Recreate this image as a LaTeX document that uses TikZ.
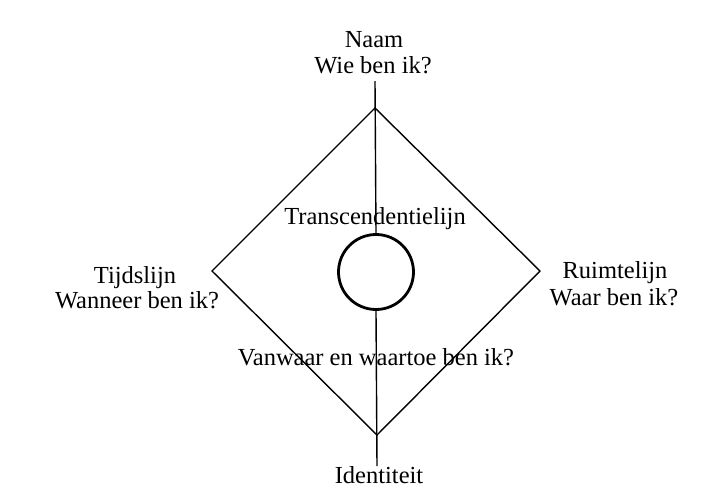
\documentclass[tikz,border=0pt]{standalone}
\usepackage{fontspec}
\setmainfont{Liberation Serif}
\begin{document}
\begin{tikzpicture}[x=1pt,y=-1pt,
  lbl/.style={anchor=base,inner sep=0pt,font=\fontsize{24.5}{27}\selectfont},
  edge/.style={line width=1.4pt},
  ring/.style={circle,draw,line width=2.8pt,minimum size=75pt,inner sep=0pt}]
\useasboundingbox (0,0) rectangle (716,491);
\coordinate (T) at (375,108);
\coordinate (L) at (212,271);
\coordinate (R) at (540,271);
\coordinate (B) at (377,435);
\coordinate (Ttop) at (375,81);
\coordinate (Bbot) at (377,466);
\node[ring] (c) at (376,272) {};
\draw[edge] (T) -- (R) -- (B) -- (L) -- cycle;
\draw[edge] (Ttop) -- (c.north);
\draw[edge] (c.south) -- (Bbot);
\node[lbl] (naam) at (374,47) {Naam};
\node[lbl] (wie) at (373,73) {Wie ben ik?};
\node[lbl] (trans) at (375,224) {Transcendentielijn};
\node[lbl] (tijd) at (135,283) {Tijdslijn};
\node[lbl] (wann) at (137,308) {Wanneer ben ik?};
\node[lbl] (ruim) at (615,278) {Ruimtelijn};
\node[lbl] (waar) at (614,305) {Waar ben ik?};
\node[lbl] (vanw) at (376,365) {Vanwaar en waartoe ben ik?};
\node[lbl] (ident) at (379,483) {Identiteit};
\end{tikzpicture}
\end{document}
